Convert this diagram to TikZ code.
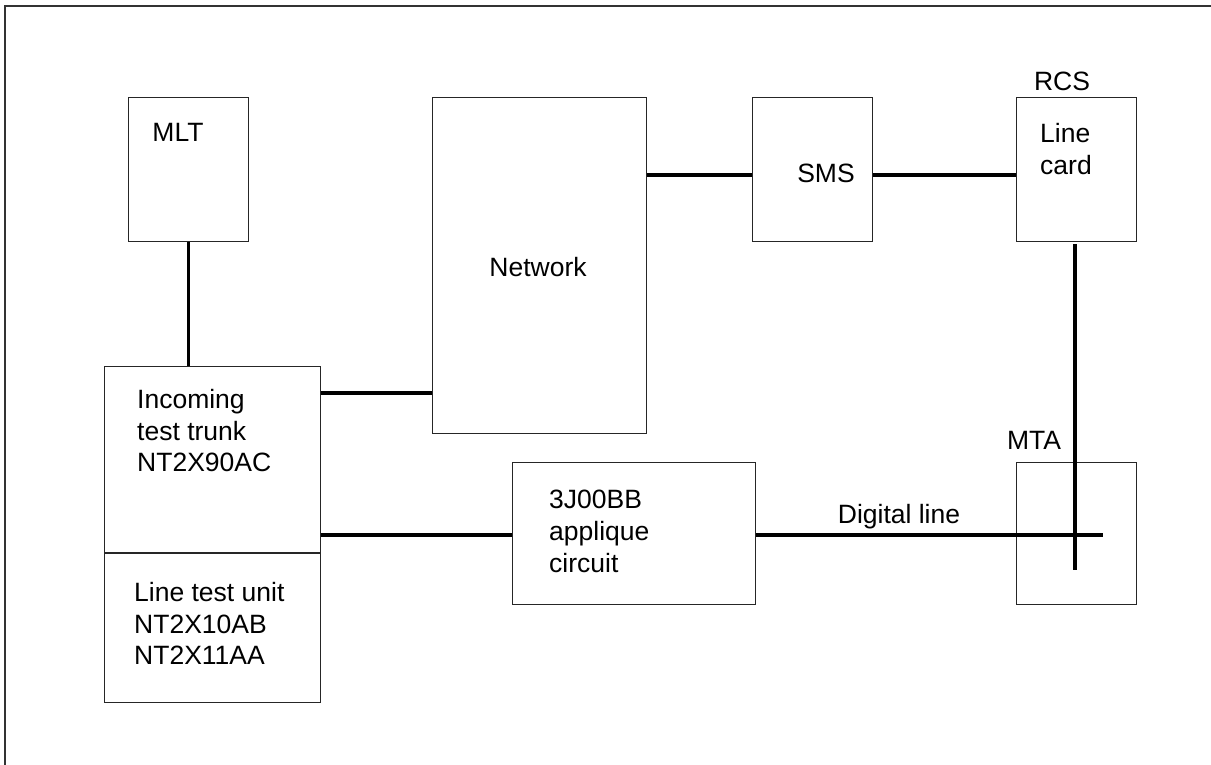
\documentclass[tikz,border=0pt]{standalone}
\usepackage{fontspec}
\setmainfont{Liberation Sans}
\usetikzlibrary{calc}
\begin{document}
\begin{tikzpicture}[x=1pt,y=-1pt,
  box/.style={draw=black!85, line width=1.2pt, rectangle, inner sep=0pt, anchor=north west},
  wire/.style={line width=3.2pt, black},
  lbl/.style={inner sep=0pt, font=\fontsize{26.5}{31.7}\selectfont, align=left}]
\useasboundingbox (0,0) rectangle (1211,765);
\draw[line width=1.6pt, black!80] (5,765) -- (5,6) -- (1211,6);
% boxes
\node[box, minimum width=120pt, minimum height=144pt] (mlt) at (128,97) {};
\node[box, minimum width=216pt, minimum height=336pt] (itt) at (104,366) {};
\node[box, minimum width=214pt, minimum height=336pt] (net) at (432,97) {};
\node[box, minimum width=120pt, minimum height=144pt] (sms) at (752,97) {};
\node[box, minimum width=120pt, minimum height=144pt] (lc) at (1016,97) {};
\node[box, minimum width=120pt, minimum height=142pt] (mta) at (1016,462) {};
\node[box, minimum width=243pt, minimum height=142pt] (app) at (512,462) {};
\draw[draw=black!85, line width=1.2pt] ($(itt.north west)+(0,187)$) -- ($(itt.north east)+(0,187)$);
% texts
\node[lbl] (tmlt) at (178,132) {MLT};
\node[lbl, anchor=north west] (titt) at (137,389) {Incoming\\test trunk\\NT2X90AC};
\node[lbl, anchor=north west] (tltu) at (134,582) {Line test unit\\NT2X10AB\\NT2X11AA};
\node[lbl, anchor=north] (tnet) at (538,257) {Network};
\node[lbl] (tsms) at (826,173) {SMS};
\node[lbl] (trcs) at (1062,81) {RCS};
\node[lbl, anchor=north west] (tlc) at (1040,123) {Line\\card};
\node[lbl] (tmta) at (1034,440) {MTA};
\node[lbl, anchor=north west] (tapp) at (549,490) {3J00BB\\applique\\circuit};
\node[lbl, anchor=base] (tdl) at (899,523) {Digital line};
% connectors
\draw[wire] (mlt.south) -- (mlt.south |- itt.north);
\coordinate (a1) at ($(itt.north east)+(0,27)$);
\draw[wire] (a1) -- (a1 -| net.west);
\coordinate (s1) at ($(sms.north west)+(0,78)$);
\draw[wire] (s1 -| net.east) -- (s1);
\draw[wire] (s1 -| sms.east) -- (s1 -| lc.west);
\coordinate (v1) at (1075,570);
\draw[wire] ($(v1 |- lc.south)+(0,2)$) -- (v1);
\coordinate (h1) at (1103,535);
\draw[wire] (h1 -| itt.east) -- (h1 -| app.west);
\draw[wire] (h1 -| app.east) -- (h1);
\end{tikzpicture}
\end{document}
